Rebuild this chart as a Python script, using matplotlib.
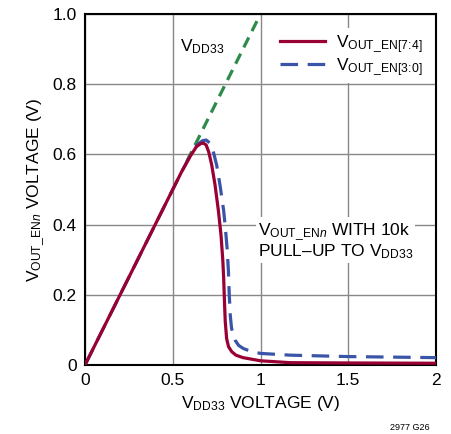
import matplotlib
matplotlib.use('Agg')
import matplotlib.pyplot as plt
from matplotlib import font_manager

# pick a condensed font if available
names = set(f.name for f in font_manager.fontManager.ttflist)
FONT = 'Liberation Sans Narrow' if 'Liberation Sans Narrow' in names else 'Liberation Sans'
plt.rcParams['font.family'] = [FONT, 'DejaVu Sans']
plt.rcParams['mathtext.fontset'] = 'custom'
plt.rcParams['mathtext.rm'] = FONT
plt.rcParams['mathtext.it'] = FONT + ':italic'

# VOUT_EN[7:4] (solid)
x_74 = [0, 0.55, 0.60, 0.635, 0.66, 0.675, 0.69, 0.705, 0.722, 0.741, 0.76,
        0.775, 0.785, 0.79, 0.794, 0.799, 0.807, 0.818, 0.836, 0.86, 0.90,
        1.0, 1.17, 1.5, 2.0]
y_74 = [0, 0.55, 0.595, 0.622, 0.631, 0.632, 0.627, 0.607, 0.57, 0.513, 0.44,
        0.37, 0.30, 0.25, 0.19, 0.125, 0.075, 0.052, 0.038, 0.028, 0.021,
        0.012, 0.0066, 0.0058, 0.005]

# VOUT_EN[3:0] (dashed)
x_30 = [0, 0.55, 0.60, 0.64, 0.67, 0.69, 0.71, 0.73, 0.75, 0.77, 0.79, 0.80,
        0.81, 0.817, 0.822, 0.828, 0.835, 0.845, 0.855, 0.875, 0.902, 0.95,
        1.0, 1.17, 1.5, 2.0]
y_30 = [0, 0.55, 0.597, 0.628, 0.639, 0.641, 0.633, 0.61, 0.57, 0.51, 0.44, 0.39,
        0.33, 0.27, 0.20, 0.14, 0.105, 0.085, 0.071, 0.056, 0.047, 0.038,
        0.033, 0.028, 0.024, 0.021]

# VDD33 reference line
x_vdd = [0.58, 1.0]
y_vdd = [0.58, 1.0]

xticks = [0, 0.5, 1, 1.5, 2]
xticklabels = ['0', '0.5', '1', '1.5', '2']
yticks = [0, 0.2, 0.4, 0.6, 0.8, 1.0]
yticklabels = ['0', '0.2', '0.4', '0.6', '0.8', '1.0']

fig = plt.figure(figsize=(4.51, 4.34), dpi=100)
ax = fig.add_axes([85/451, 1-365/434, 351/451, 351/434])

ax.set_xlim(0, 2)
ax.set_ylim(0, 1)
ax.set_xticks(xticks)
ax.set_xticklabels(xticklabels)
ax.set_yticks(yticks)
ax.set_yticklabels(yticklabels)
ax.tick_params(length=0, labelsize=12.5, pad=6)
ax.grid(True, color='#888888', linewidth=1.0)
ax.set_axisbelow(True)
for s in ax.spines.values():
    s.set_linewidth(1.5)

ax.plot(x_vdd, y_vdd, color='#2e8b4a', lw=2.3, dashes=(3.5, 2.2), zorder=2)
ax.plot(x_30, y_30, color='#3a55a8', lw=2.3, dashes=(5.5, 3.0),
        label=r'V$_{\mathrm{OUT\_EN[3\!:\!0]}}$', zorder=3)
ax.plot(x_74, y_74, color='#990033', lw=2.3,
        label=r'V$_{\mathrm{OUT\_EN[7\!:\!4]}}$', zorder=4)

h, l = ax.get_legend_handles_labels()
leg = ax.legend(h[::-1], l[::-1], loc='upper right', fontsize=12.5,
                frameon=True, fancybox=False, edgecolor='none', framealpha=1,
                handlelength=2.6, handletextpad=0.6, labelspacing=0.05,
                borderpad=0.3, bbox_to_anchor=(1.0, 0.985))

ax.text(0.54, 0.895, r'V$_{\mathrm{DD33}}$', fontsize=12.5, transform=ax.transData)
ax.text(0.985, 0.295, 'V$_{\\mathrm{OUT\\_EN}\\mathit{n}}$ WITH 10k\nPULL\u2013UP TO V$_{\\mathrm{DD33}}$',
        fontsize=12.5, ha='left', va='bottom', linespacing=1.0,
        bbox=dict(facecolor='white', edgecolor='none', pad=1))

ax.set_xlabel(r'V$_{\mathrm{DD33}}$ VOLTAGE (V)', fontsize=12.5, labelpad=4)
ax.set_ylabel(r'V$_{\mathrm{OUT\_EN}\mathit{n}}$ VOLTAGE (V)', fontsize=12.5, labelpad=4)

fig.text(410/451, 1-427/434, '2977 G26', fontsize=6.5, ha='center', va='center')

fig.savefig('out.png', dpi=100)
